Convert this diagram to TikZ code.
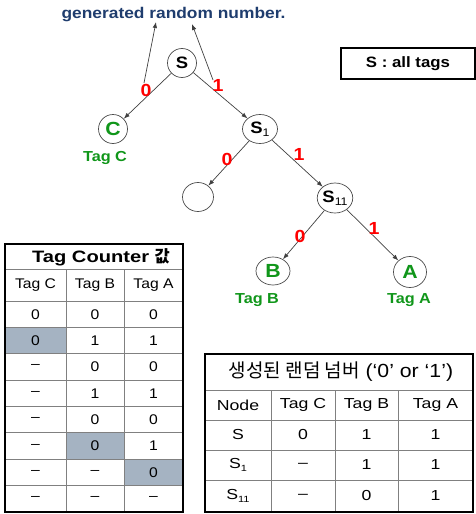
\documentclass[tikz,border=0pt]{standalone}
\usepackage{fontspec}
\setmainfont{Liberation Sans}[FakeStretch=1.12]
\newfontfamily\wf{Liberation Sans}[FakeStretch=1.22]
\newfontfamily\krfont{Noto Sans CJK KR}
\usetikzlibrary{shapes.geometric,arrows.meta}
\definecolor{titleblue}{HTML}{1F3D6E}
\definecolor{taggreen}{HTML}{10961A}
\definecolor{cellshade}{HTML}{A5B3C2}
\definecolor{edgegray}{HTML}{404040}
\definecolor{gridgray}{HTML}{808080}
\begin{document}
\begin{tikzpicture}[x=1pt,y=-1pt,
  tnode/.style={ellipse, draw=black!70, fill=white, line width=0.7pt, inner sep=0pt,
    font=\fontsize{16.5}{16.5}\selectfont\bfseries},
  leaf/.style={tnode, text=taggreen, font=\fontsize{19}{19}\selectfont\bfseries},
  edge/.style={draw=edgegray, line width=0.7pt, -{Latex[length=6pt,width=4.5pt]}},
  bit/.style={text=red, inner sep=0pt, font=\fontsize{17.5}{17.5}\selectfont\bfseries},
  taglabel/.style={text=taggreen, inner sep=0pt, font=\fontsize{14.5}{14.5}\selectfont\bfseries},
  cell/.style={inner sep=0pt, font=\fontsize{14}{14}\selectfont},
  rcell/.style={inner sep=0pt, font=\wf\fontsize{14.5}{14.5}\selectfont},
  grid/.style={draw=gridgray, line width=0.8pt},
  frame/.style={draw=black, line width=1.8pt},
]
\useasboundingbox (0,0) rectangle (476,514);

% title
\node[text=titleblue, inner sep=0pt, font=\fontsize{15.5}{15.5}\selectfont\bfseries] (title) at (173.5,15) {generated random number.};

% legend box
\node[draw=black, line width=2pt, minimum width=134pt, minimum height=31pt, inner sep=0pt,
  font=\fontsize{15}{15}\selectfont\bfseries] (legend) at (408,63.5) {S : all tags};

% tree nodes
\node[tnode, minimum width=29pt, minimum height=29pt] (S) at (182,63) {S};
\node[leaf, minimum width=29pt, minimum height=29pt] (C) at (113,129) {C};
\node[tnode, minimum width=35pt, minimum height=29pt] (S1) at (260,129) {S\raisebox{-3.5pt}{\fontsize{11}{11}\selectfont\mdseries 1}};
\node[tnode, minimum width=31pt, minimum height=29pt] (E) at (198,197) {};
\node[tnode, minimum width=34pt, minimum height=30pt] (S11) at (335,198) {S\raisebox{-3.5pt}{\fontsize{11}{11}\selectfont\mdseries 11}};
\node[leaf, minimum width=34pt, minimum height=28pt] (B) at (273,271) {B};
\node[leaf, minimum width=33pt, minimum height=31pt] (A) at (410,272) {A};

% edges
\draw[edge] (S) -- (C);
\draw[edge] (S) -- (S1);
\draw[edge] (S1) -- (E);
\draw[edge] (S1) -- (S11);
\draw[edge] (S11) -- (B);
\draw[edge] (S11) -- (A);

% arrows to title
\coordinate (u0s) at (144,83);
\coordinate (u0e) at (156,22);
\coordinate (u1s) at (213,80);
\coordinate (u1e) at (192,24);
\draw[edge] (u0s) -- (u0e);
\draw[edge] (u1s) -- (u1e);

% bit labels
\node[bit] (b1) at (146,90) {0};
\node[bit] (b2) at (218,85) {1};
\node[bit] (b3) at (227,159) {0};
\node[bit] (b4) at (299,154) {1};
\node[bit] (b5) at (300,236) {0};
\node[bit] (b6) at (374,228) {1};

% tag labels
\node[taglabel] (tC) at (105,158) {Tag C};
\node[taglabel] (tB) at (257,300) {Tag B};
\node[taglabel] (tA) at (409,300) {Tag A};

% ---------- left table ----------
\fill[cellshade] (5,327.375) rectangle (66,353.75);
\fill[cellshade] (66,432.875) rectangle (124,459.25);
\fill[cellshade] (124,459.25) rectangle (183,485.625);
\foreach \yy in {269,301,327.375,353.75,380.125,406.5,432.875,459.25,485.625}
  \draw[grid] (5,\yy) -- (183,\yy);
\draw[grid] (66,269) -- (66,512);
\draw[grid] (124,269) -- (124,512);
\draw[frame] (5,244) rectangle (183,512);
\node[inner sep=0pt, font=\wf\fontsize{16.5}{16.5}\selectfont\bfseries] (lh) at (101,257)
  {Tag Counter {\krfont\bfseries 값}};
\node[cell] (lhc) at (35.5,285) {Tag C};
\node[cell] (lhb) at (95,285) {Tag B};
\node[cell] (lha) at (153.5,285) {Tag A};
\foreach \r/\a/\b/\c in {1/0/0/0, 2/0/1/1, 3/–/0/0, 4/–/1/1, 5/–/0/0, 6/–/0/1, 7/–/–/0, 8/–/–/–}{
  \pgfmathsetmacro\yy{301+26.375*(\r-0.5)}
  \node[cell] (L\r a) at (35.5,\yy) {\a};
  \node[cell] (L\r b) at (95,\yy) {\b};
  \node[cell] (L\r c) at (153.5,\yy) {\c};
}

% ---------- right table ----------
\foreach \yy in {390,420,450,480}
  \draw[grid] (205,\yy) -- (473,\yy);
\foreach \xx in {271,335,398}
  \draw[grid] (\xx,390) -- (\xx,512);
\draw[frame] (205,354) rectangle (473,512);
\node[inner sep=0pt, font=\fontsize{19}{19}\selectfont] (rh) at (341,372)
  {{\krfont 생성된 랜덤 넘버} (‘0’ or ‘1’)};
\node[rcell] (rh1) at (238,405) {Node};
\node[rcell] (rh2) at (303,405) {Tag C};
\node[rcell] (rh3) at (366.5,405) {Tag B};
\node[rcell] (rh4) at (435.5,405) {Tag A};
\node[rcell] (r1a) at (238,435) {S};
\node[rcell] (r1b) at (303,435) {0};
\node[rcell] (r1c) at (366.5,435) {1};
\node[rcell] (r1d) at (435.5,435) {1};
\node[rcell] (r2a) at (238,465) {S\raisebox{-3pt}{\fontsize{9}{9}\selectfont 1}};
\node[rcell] (r2b) at (303,465) {–};
\node[rcell] (r2c) at (366.5,465) {1};
\node[rcell] (r2d) at (435.5,465) {1};
\node[rcell] (r3a) at (238,496) {S\raisebox{-3pt}{\fontsize{9}{9}\selectfont 11}};
\node[rcell] (r3b) at (303,496) {–};
\node[rcell] (r3c) at (366.5,496) {0};
\node[rcell] (r3d) at (435.5,496) {1};
\end{tikzpicture}
\end{document}
